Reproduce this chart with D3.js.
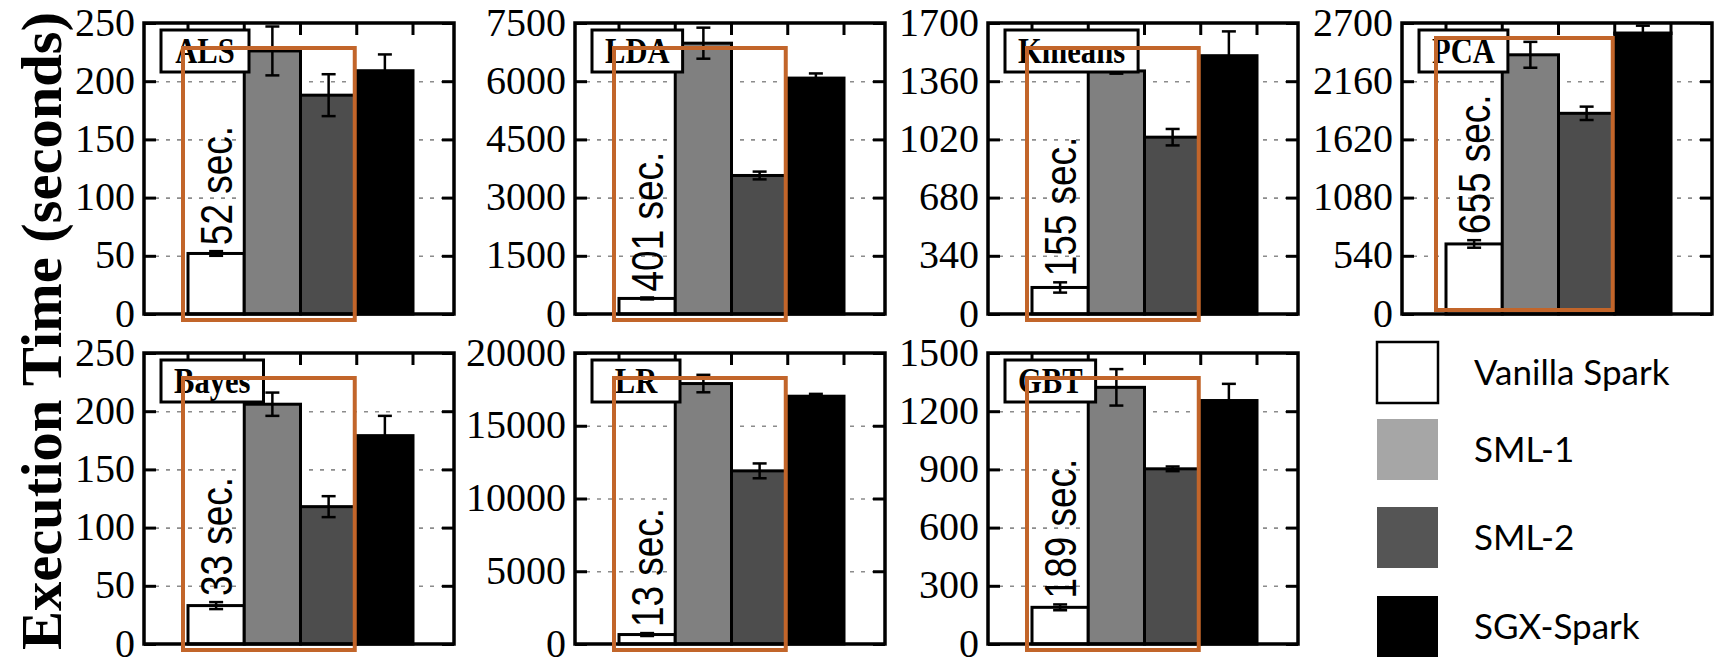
<!DOCTYPE html>
<html>
<head>
<meta charset="UTF-8">
<title>Execution Time</title>
<script src="https://d3js.org/d3.v7.min.js"></script>
<style>
  body { margin: 0; background: #fff; }
</style>
</head>
<body>
<div id="svg-container"></div>
<script>
// data
const workloads = ["ALS", "LDA", "Kmeans", "PCA", "Bayes", "LR", "GBT"];
const series = ["Vanilla Spark", "SML-1", "SML-2", "SGX-Spark"];
const yMax = [250, 7500, 1700, 2700, 250, 20000, 1500];
const yTickCount = [5, 5, 5, 5, 5, 4, 5];
const vanilla = [52, 401, 155, 650, 33, 650, 189];
const sml1 = [226, 6980, 1420, 2405, 206, 17900, 1323];
const sml2 = [188, 3570, 1033, 1862, 118, 11900, 903];
const sgx = [209, 6080, 1509, 2607, 179, 17030, 1255];
const vanillaErr = [2, 25, 30, 35, 3, 100, 15];
const sml1Err = [21, 400, 16, 120, 10, 600, 94];
const sml2Err = [18, 100, 48, 62, 9, 510, 12];
const sgxErr = [14, 120, 142, 68, 17, 160, 86];
const vanillaNote = ["52 sec.", "401 sec.", "155 sec.", "655 sec.", "33 sec.", "13 sec.", "189 sec."];

// layout
const W = 1729, H = 662;
const colLeft = [144, 575, 988, 1402];
const rowTop = [23, 353];
const pw = 310, ph = 291;
const fills = ["#ffffff", "#808080", "#4d4d4d", "#000000"];
const legendFills = ["#ffffff", "#a6a6a6", "#555555", "#000000"];
const legendTop = [342, 419, 507, 596];
const hlShift = [[0, 0], [0, 0], [0, 0], [-5, -10], [0, 0], [0, 0], [0, 0]];
const orange = "#c2652a";
const serif = "'Liberation Serif', 'Times New Roman', serif";
const sans = "'Liberation Sans', Arial, sans-serif";

let svg = d3.select("#svg-container")
    .append("svg")
    .attr("width", W)
    .attr("height", H);

svg.append("rect").attr("width", W).attr("height", H).attr("fill", "#fff");

workloads.forEach((name, i) => {
    let row = i < 4 ? 0 : 1;
    let col = i < 4 ? i : i - 4;
    let left = colLeft[col], top = rowTop[row];

    let vals = [vanilla[i], sml1[i], sml2[i], sgx[i]];
    let errs = [vanillaErr[i], sml1Err[i], sml2Err[i], sgxErr[i]];

    let x = d3.scaleBand().domain(series).range([left + 44, left + 269]).padding(0);
    let y = d3.scaleLinear().domain([0, yMax[i]]).range([top + ph, top]);
    let n = yTickCount[i];
    let tv = d3.range(n + 1).map(k => yMax[i] * k / n);

    let g = svg.append("g");

    // dashed grid
    g.append("g")
        .attr("transform", `translate(${left},0)`)
        .call(d3.axisLeft(y).tickValues(tv.slice(1, n)).tickSize(-pw).tickFormat(""))
        .call(a => a.select(".domain").remove())
        .selectAll("line")
        .attr("stroke", "#8c8c8c")
        .attr("stroke-width", 1.6)
        .attr("stroke-dasharray", "4,7");

    // bars
    g.selectAll("rect.bar")
        .data(series)
        .join("rect")
        .attr("class", "bar")
        .attr("x", d => x(d))
        .attr("y", (d, k) => y(vals[k]))
        .attr("width", x.bandwidth())
        .attr("height", (d, k) => y(0) - y(vals[k]))
        .attr("fill", (d, k) => fills[k])
        .attr("stroke", "#000")
        .attr("stroke-width", 3);

    // error bars
    let eb = g.selectAll("g.err")
        .data(series)
        .join("g")
        .attr("class", "err")
        .attr("stroke", "#000")
        .attr("stroke-width", 2.5);
    eb.append("line")
        .attr("x1", d => x(d) + x.bandwidth() / 2)
        .attr("x2", d => x(d) + x.bandwidth() / 2)
        .attr("y1", (d, k) => y(vals[k] - errs[k]))
        .attr("y2", (d, k) => y(vals[k] + errs[k]));
    [1, -1].forEach(s => {
        eb.append("line")
            .attr("x1", d => x(d) + x.bandwidth() / 2 - 7)
            .attr("x2", d => x(d) + x.bandwidth() / 2 + 7)
            .attr("y1", (d, k) => y(vals[k] + s * errs[k]))
            .attr("y2", (d, k) => y(vals[k] + s * errs[k]));
    });

    // left axis with labels, inward ticks
    g.append("g")
        .attr("transform", `translate(${left},0)`)
        .call(d3.axisLeft(y).tickValues(tv).tickSizeInner(-12).tickSizeOuter(0).tickPadding(9).tickFormat(d3.format("d")))
        .call(a => a.select(".domain").remove())
        .call(a => a.selectAll("line").attr("stroke", "#000").attr("stroke-width", 3))
        .call(a => a.selectAll("text")
            .attr("font-family", serif)
            .attr("font-size", 40)
            .attr("dy", "0.3em")
            .attr("fill", "#000"));

    // right axis ticks
    g.append("g")
        .attr("transform", `translate(${left + pw},0)`)
        .call(d3.axisRight(y).tickValues(tv).tickSizeInner(-12).tickSizeOuter(0).tickFormat(""))
        .call(a => a.select(".domain").remove())
        .selectAll("line").attr("stroke", "#000").attr("stroke-width", 3);

    // top ticks at bar edges
    let edges = series.map(d => x(d)).concat([x(series[3]) + x.bandwidth()]);
    g.selectAll("line.xt")
        .data(edges)
        .join("line")
        .attr("class", "xt")
        .attr("x1", d => d).attr("x2", d => d)
        .attr("y1", top).attr("y2", top + 12)
        .attr("stroke", "#000").attr("stroke-width", 3);

    // frame
    g.append("rect")
        .attr("x", left).attr("y", top)
        .attr("width", pw).attr("height", ph)
        .attr("fill", "none")
        .attr("stroke", "#000")
        .attr("stroke-width", 3.5);

    // vanilla annotation
    let cx = x(series[0]) + x.bandwidth() / 2;
    g.append("text")
        .attr("transform", `translate(${cx},${y(vanilla[i] + vanillaErr[i]) - 6}) rotate(-90) scale(0.84,1)`)
        .attr("dy", "0.36em")
        .attr("font-family", sans)
        .attr("font-size", 44)
        .attr("fill", "#000")
        .text(vanillaNote[i]);

    // workload label box
    let bx = left + 17, by = top + 7;
    let box = g.append("rect")
        .attr("x", bx).attr("y", by)
        .attr("height", 42)
        .attr("fill", "#fff")
        .attr("stroke", "#000")
        .attr("stroke-width", 3);
    let lt = g.append("text")
        .attr("font-family", serif)
        .attr("font-weight", "bold")
        .attr("font-size", 36)
        .attr("text-anchor", "middle")
        .text(name);
    let bw = Math.max(88, lt.node().getComputedTextLength() * 0.85 + 26);
    box.attr("width", bw);
    lt.attr("transform", `translate(${bx + bw / 2},${by + 33}) scale(0.85,1)`);

    // highlight box
    let hx = x(series[0]) - 5 + hlShift[i][0];
    let hy = top + 25 + hlShift[i][1];
    g.append("rect")
        .attr("x", hx)
        .attr("y", hy)
        .attr("width", x(series[3]) - 2 - hx)
        .attr("height", top + ph + 6 + hlShift[i][1] - hy)
        .attr("fill", "none")
        .attr("stroke", orange)
        .attr("stroke-width", 4);
});

// y axis title
svg.append("text")
    .attr("transform", "translate(61,331) rotate(-90)")
    .attr("text-anchor", "middle")
    .attr("font-family", serif)
    .attr("font-weight", "bold")
    .attr("font-size", 58)
    .attr("textLength", 638)
    .attr("lengthAdjust", "spacingAndGlyphs")
    .text("Execution Time (seconds)");

// legend
let lg = svg.selectAll("g.legend")
    .data(series)
    .join("g")
    .attr("class", "legend");
lg.append("rect")
    .attr("x", 1377)
    .attr("y", (d, k) => legendTop[k])
    .attr("width", 61).attr("height", 61)
    .attr("fill", (d, k) => legendFills[k])
    .attr("stroke", (d, k) => k === 0 ? "#000" : "none")
    .attr("stroke-width", 2.5);
lg.append("text")
    .attr("x", 1474)
    .attr("y", (d, k) => legendTop[k] + 43)
    .attr("font-family", "Lato, 'Open Sans', sans-serif")
    .attr("font-size", 35)
    .attr("fill", "#000")
    .text(d => d);
</script>
</body>
</html>
